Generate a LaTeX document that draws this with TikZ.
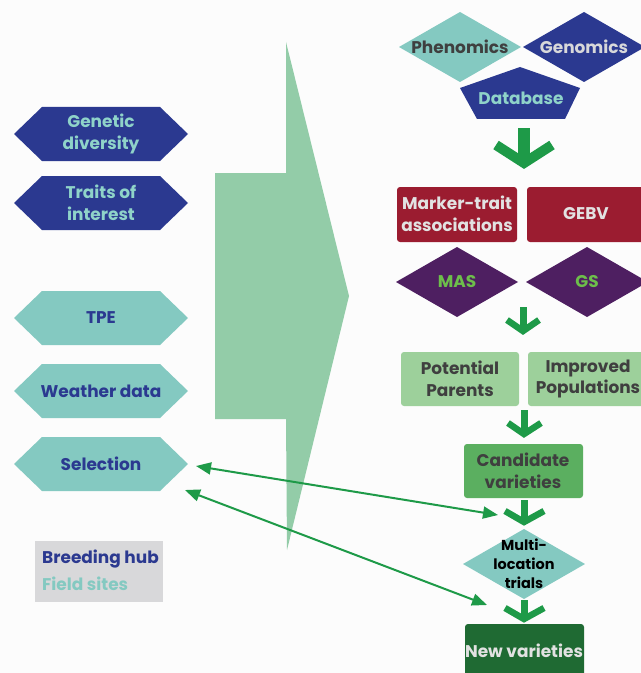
\documentclass[tikz,border=0pt]{standalone}
\usepackage{fontspec}
\setmainfont{Poppins}
\usetikzlibrary{arrows.meta}
\definecolor{dblue}{HTML}{2B3990}
\definecolor{teal1}{HTML}{84C9C1}
\definecolor{tealtxt}{HTML}{8FD3C9}
\definecolor{dred}{HTML}{9B1C30}
\definecolor{purp}{HTML}{4E1F61}
\definecolor{gtxt}{HTML}{6DBE4B}
\definecolor{lgreen}{HTML}{9DD09B}
\definecolor{mgreen}{HTML}{5BAF60}
\definecolor{dgreen}{HTML}{1F6A33}
\definecolor{bigarr}{HTML}{93CCA8}
\definecolor{agreen}{HTML}{1E9A48}
\definecolor{lgray}{HTML}{D8D8DA}
\definecolor{dgray}{HTML}{3F3F3F}
\definecolor{ltxt}{HTML}{E2E2E2}
\newcommand\hexnode[5]{%
  \fill[#3] (14,#2) -- (42,#2-27) -- (160,#2-27) -- (188,#2) -- (160,#2+27) -- (42,#2+27) -- cycle;
  \node[txt,text=#4] (#1) at (101,#2) {#5};}
\newcommand\dianode[7]{%
  \fill[#4] (#2-61,#3) -- (#2,#3-35) -- (#2+61,#3) -- (#2,#3+35) -- cycle;
  \node[txt,text=#5,#6] (#1) at (#2,#3) {#7};}
\tikzset{
  txt/.style={font=\bfseries\fontsize{17}{22}\selectfont, align=center, inner sep=0pt},
  boxr/.style={rounded corners=3bp},
  downarr/.style={agreen, line join=miter, line cap=butt},
  dbl/.style={agreen, line width=2bp, {Triangle[length=15bp,width=12bp]}-{Triangle[length=15bp,width=12bp]}}
}
\begin{document}
\begin{tikzpicture}[x=1bp,y=-1bp]
\fill[white!98!gray] (0,0) rectangle (641,673);
\useasboundingbox (0,0) rectangle (641,673);
\clip (0,0) rectangle (641,673);
% big arrow
\fill[bigarr] (215,173) -- (286,173) -- (286,42) -- (349,296) -- (287,550) -- (286,419) -- (215,419) -- cycle;
% left hexagons
\hexnode{gd}{134}{dblue}{tealtxt}{Genetic\\diversity}
\hexnode{ti}{203}{dblue}{tealtxt}{Traits of\\interest}
\hexnode{tpe}{318}{teal1}{dblue}{TPE}
\hexnode{wd}{391}{teal1}{dblue}{Weather data}
\hexnode{sel}{464}{teal1}{dblue}{Selection}
% legend
\fill[lgray] (35,541) rectangle (163,602);
\node[txt,text=dblue,anchor=west] (lg1) at (42,559) {Breeding hub};
\node[txt,text=teal1,anchor=west] (lg2) at (42,584) {Field sites};
% top right
\dianode{phe}{460}{47}{teal1}{dgray}{}{Phenomics}
\dianode{gen}{584}{47}{dblue}{lgray}{}{Genomics}
\fill[dblue] (520,67) -- (580,88) -- (565,119) -- (477,119) -- (460,88) -- cycle;
\node[txt,text=tealtxt] (db) at (521,98) {Database};
% arrow 1
\draw[downarr,line width=12bp] (524,128) -- (524,158);
\draw[downarr,line width=10bp] (496,145) -- (524,163) -- (552,145);
% red boxes
\fill[dred,boxr] (397,187) rectangle (517,242);
\node[txt,text=ltxt] (mta) at (457,214) {Marker-trait\\associations};
\fill[dred,boxr] (527,187) rectangle (660,242);
\node[txt,text=ltxt] (gebv) at (586,214) {GEBV};
% diamonds
\dianode{mas}{457}{282}{purp}{gtxt}{}{MAS}
\dianode{gs}{587}{282}{purp}{gtxt}{}{GS}
% arrow 2
\draw[downarr,line width=7bp] (523,307) -- (523,330);
\draw[downarr,line width=6.5bp] (507,320) -- (523,331) -- (539,320);
% light green
\fill[lgreen,boxr] (401,352) rectangle (519,406);
\node[txt,text=dgray] (pp) at (460,379) {Potential\\Parents};
\fill[lgreen,boxr] (528,352) rectangle (660,406);
\node[txt,text=dgray] (ip) at (588,379) {Improved\\Populations};
% arrow 3
\draw[downarr,line width=7bp] (524,410) -- (524,432);
\draw[downarr,line width=6.5bp] (508,423) -- (524,434) -- (541,423);
% candidate
\fill[mgreen,boxr] (464,444) rectangle (583,498);
\node[txt,text=dgray] (cv) at (523,471) {Candidate\\varieties};
% arrow 4
\draw[downarr,line width=7bp] (524,500) -- (524,520);
\draw[downarr,line width=6.5bp] (505,511) -- (524,522) -- (544,511);
% multi-location
\dianode{ml}{524}{564}{teal1}{black}{font=\bfseries\fontsize{14.5}{19}\selectfont}{Multi-\\location\\trials}
% arrow 5
\draw[downarr,line width=7bp] (524,600) -- (524,617);
\draw[downarr,line width=6.5bp] (505,608) -- (524,619) -- (544,608);
% new varieties
\fill[dgreen,boxr] (465,624) rectangle (584,700);
\node[txt,text=ltxt] (nv) at (524,651) {New varieties};
% double arrows
\coordinate (s1) at (196,466);
\coordinate (e1) at (498,515);
\coordinate (s2) at (185,490);
\coordinate (e2) at (487,605);
\draw[dbl] (s1) -- (e1);
\draw[dbl] (s2) -- (e2);
\end{tikzpicture}
\end{document}
